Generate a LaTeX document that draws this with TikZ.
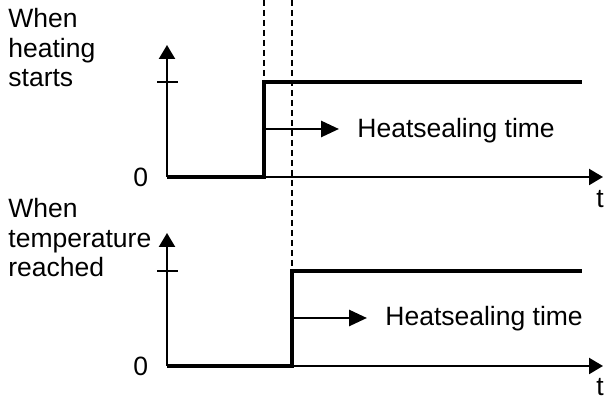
\documentclass[tikz,border=0pt]{standalone}
\usepackage{fontspec}
\setmainfont{Liberation Sans}
\usetikzlibrary{arrows.meta, positioning}

\begin{document}
\begin{tikzpicture}[x=0.5pt, y=-0.5pt,
  every node/.style={font=\fontsize{13.25}{14.75}\selectfont, inner sep=0pt},
  caption/.style={align=left, anchor=base west},
  signal/.style={line width=1.7pt},
  axis/.style={line width=1.1pt, -{Triangle[length=7pt, width=8pt]}},
  tickmark/.style={line width=0.8pt},
  marker/.style={line width=1pt, dash pattern=on 3pt off 2pt},
  push/.style={line width=1.4pt, -{Triangle[length=9pt, width=8pt]}, shorten >=9pt}
]
\useasboundingbox (0,0) rectangle (605,399);

% heating starts
\coordinate (hsO) at (167,177);
\coordinate (hsY) at (167,45);
\coordinate (hsT) at (603,177);
\coordinate (hsTickL) at (157,82);
\coordinate (hsTickR) at (178,82);
\coordinate (hsUp) at (264,177);
\coordinate (hsHigh) at (264,82);
\coordinate (hsEnd) at (582,82);
\coordinate (hsMid) at (264,129);
\node[caption] (hsLabel) at (8,87) {When\\heating\\starts};
\node[anchor=east] (hsZero) at (148.5,177) {0};
\node[anchor=base] (hsTime) at (600,208) {t};
\node[anchor=base west] (hsText) at (357,137.5) {Heatsealing time};

\draw[axis] (hsO) -- (hsY);
\draw[axis] (hsO) -- (hsT);
\draw[tickmark] (hsTickL) -- (hsTickR);
\draw[signal] (hsO) -- (hsUp) -- (hsHigh) -- (hsEnd);
\draw[push] (hsMid) -- (hsMid -| hsText.west);

% temperature reached
\coordinate (trO) at (167,366);
\coordinate (trY) at (167,233);
\coordinate (trT) at (603,366);
\coordinate (trTickL) at (157,271);
\coordinate (trTickR) at (178,271);
\coordinate (trUp) at (292,366);
\coordinate (trHigh) at (292,271);
\coordinate (trEnd) at (582,271);
\coordinate (trMid) at (292,318);
\node[caption] (trLabel) at (8,277) {When\\temperature\\reached};
\node[anchor=east] (trZero) at (148.5,366) {0};
\node[anchor=base] (trTime) at (600,396) {t};
\node[anchor=base west] (trText) at (385,326) {Heatsealing time};

\draw[axis] (trO) -- (trY);
\draw[axis] (trO) -- (trT);
\draw[tickmark] (trTickL) -- (trTickR);
\draw[signal] (trO) -- (trUp) -- (trHigh) -- (trEnd);
\draw[push] (trMid) -- (trMid -| trText.west);

% dashed markers
\coordinate (mkA) at (264,0);
\coordinate (mkB) at (292,0);
\draw[marker] (mkA) -- (hsHigh);
\draw[marker] (mkB) -- (trHigh);
\end{tikzpicture}
\end{document}
